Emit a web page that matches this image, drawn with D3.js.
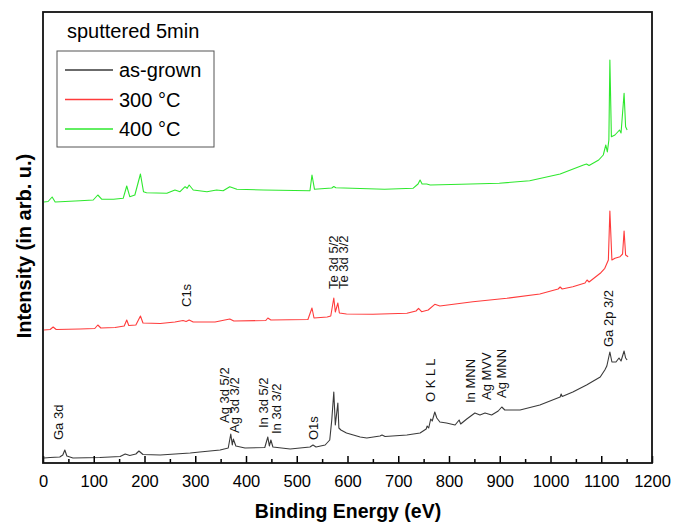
<!DOCTYPE html>
<html>
<head>
<meta charset="utf-8">
<script src="https://cdn.jsdelivr.net/npm/d3@7"></script>
<style>
  body { margin: 0; background: #fff; }
  text { font-family: "Liberation Sans", Arial, sans-serif; }
</style>
</head>
<body>
<div class="dataviz"></div>
<script>
// XPS survey spectra, sputtered 5min
// each point is [binding energy (eV), intensity (arb. u.)]

var asGrown = [
  [2,5],[14,5.5],[33,6],[39,8],[43,13],[47,7],[59,5],[112,5.5],[152,6.5],[162,9],[171,7.5],
  [183,9],[189,12],[197,8.5],[231,8],[290,10],[309,11],[349,13],[365,15],[370,29],[373,18],
  [375,24],[380,17],[398,15],[437,15.5],[443,26],[446,17],[449,23],[453,16],[487,14],[526,16],
  [532,18],[538,16],[556,18],[565,23],[569,43],[573,71],[576,38],[581,60],[583,35],[587,33],
  [598,30],[625,26],[638,25],[664,27],[668,28],[674,26.5],[717,28],[743,30],[755,34],[757,37],
  [760,35],[764,44],[767,42],[772,51],[776,45],[782,41],[795,40],[812,38],[820,43],[823,39],
  [835,44],[851,50],[861,48],[871,50],[884,48],[897,52],[904,56],[910,53],[940,53],[979,58],
  [1019,66],[1021,69],[1023,66.5],[1044,71],[1071,78],[1098,86],[1107,93],[1111,97],[1117,111],
  [1121,101],[1129,101],[1135,105],[1139,102],[1145,112],[1148,105],[1151,103]
];

var t300 = [
  [2,133],[14,133.5],[20,136],[26,133.5],[73,134],[102,134.5],[108,138],[114,135],[142,135.5],
  [160,137],[165,143],[169,137.5],[183,138],[192,147],[197,140],[231,139.5],[260,141],[276,142.5],
  [282,141.5],[288,143],[296,141],[339,141],[368,144],[376,142],[439,142.5],[443,145],[449,143],
  [522,143.5],[530,155],[534,145],[560,146],[567,147],[573,165],[576,151],[581,160],[584,150],
  [598,149],[650,148.7],[717,149.7],[735,152],[740,154.7],[746,151.3],[759,153],[772,158.7],
  [782,157],[847,161.3],[914,164.7],[979,169],[1015,174],[1019,176],[1023,174],[1044,176.3],
  [1068,180],[1072,183],[1076,181],[1098,189.7],[1107,194.7],[1114,203],[1117,252],[1121,203],
  [1127,204.7],[1137,206.3],[1142,209],[1145,232],[1148,208],[1153,206.3]
];

var t400 = [
  [2,261],[10,261.5],[18,266],[24,261],[73,262.3],[99,263],[108,268],[116,263.7],[139,263.7],
  [158,264.7],[165,277],[171,266.3],[181,268],[192,289],[198,271.3],[204,270.3],[244,269.7],
  [260,273],[270,271.3],[280,276.3],[284,274.7],[288,278],[296,273],[323,271.3],[342,273],
  [355,272.3],[368,276.3],[382,273.7],[434,273],[526,272.3],[530,288],[535,273.7],[569,275],
  [573,276.5],[577,275.3],[673,273.7],[729,274.7],[739,279],[743,283],[747,279],[756,279],
  [763,278],[824,278.7],[899,279.7],[959,282.3],[1019,289],[1065,298],[1071,299],[1076,297.5],
  [1095,303],[1104,308],[1109,318],[1112,311],[1115,323],[1117,403],[1120,326.3],[1127,328],
  [1136,333],[1139,330],[1145,369.7],[1148,336.3],[1151,333]
];

var seriesNames = ["as-grown", "300 °C", "400 °C"];
var seriesColors = ["#3a3a3a", "#ff3b3b", "#2ee82e"];

// peak labels: text, energy, intensity where the label starts
var peakLabels = [
  ["Ga 3d", 39, 23], ["Ag 3d 5/2", 367, 40], ["Ag 3d 3/2", 386, 30],
  ["In 3d 5/2", 443, 35], ["In 3d 3/2", 468, 29], ["O1s", 541, 23],
  ["C1s", 292, 156], ["Te 3d 5/2", 582, 174], ["Te 3d 3/2", 600, 174],
  ["O K L L", 773, 61], ["In MNN", 852, 60], ["Ag MVV", 883, 63], ["Ag MNN", 913, 65],
  ["Ga 2p 3/2", 1123, 116]
];

var xMajor = d3.range(0, 1201, 100);
var xMinor = d3.range(50, 1200, 100);

var margin = {top: 12, right: 21, bottom: 59, left: 43};
var W = 673, H = 522;
var width = W - margin.left - margin.right,
    height = H - margin.top - margin.bottom;

var canvas = d3.select(".dataviz").append("svg")
  .attr("width", W)
  .attr("height", H);

var plot = canvas.append("g")
  .attr("transform", "translate(" + margin.left + "," + margin.top + ")");

var x = d3.scaleLinear().domain([0, 1200]).range([0, width]);
var y = d3.scaleLinear().domain([0, height]).range([height, 0]);

var line = d3.line()
  .x(function(d) { return x(d[0]); })
  .y(function(d) { return y(d[1]); });

[asGrown, t300, t400].forEach(function(s, i) {
  plot.append("path")
    .datum(s)
    .attr("fill", "none")
    .attr("stroke", seriesColors[i])
    .attr("stroke-width", 1.1)
    .attr("stroke-linejoin", "round")
    .attr("d", line);
});

// bottom axis, ticks pointing inside
var axisMajor = plot.append("g")
  .attr("transform", "translate(0," + height + ")")
  .call(d3.axisBottom(x).tickValues(xMajor).tickSize(-7).tickPadding(12).tickFormat(d3.format("d")));
axisMajor.select(".domain").remove();
axisMajor.selectAll("line").attr("stroke", "#000").attr("stroke-width", 1.5);
axisMajor.selectAll("text")
  .attr("fill", "#000")
  .style("font-size", "16.5px")
  .style("font-family", "'Liberation Sans', Arial, sans-serif");

var axisMinor = plot.append("g")
  .attr("transform", "translate(0," + height + ")")
  .call(d3.axisBottom(x).tickValues(xMinor).tickSize(-4).tickFormat(""));
axisMinor.select(".domain").remove();
axisMinor.selectAll("line").attr("stroke", "#000").attr("stroke-width", 1.5);

// frame
plot.append("rect")
  .attr("x", 0)
  .attr("y", 0)
  .attr("width", width)
  .attr("height", height)
  .attr("fill", "none")
  .attr("stroke", "#111")
  .attr("stroke-width", 1.8);

// peak labels
plot.selectAll(".peak")
  .data(peakLabels)
  .enter()
  .append("text")
  .attr("class", "peak")
  .attr("transform", function(d) { return "translate(" + x(d[1]) + "," + y(d[2]) + ") rotate(-90)"; })
  .attr("fill", "#111")
  .style("font-size", "13px")
  .text(function(d) { return d[0]; });

// axis titles
canvas.append("text")
  .attr("x", 348)
  .attr("y", 518)
  .attr("text-anchor", "middle")
  .style("font-size", "19.5px")
  .style("font-weight", "bold")
  .text("Binding Energy (eV)");

canvas.append("text")
  .attr("transform", "translate(31,246) rotate(-90)")
  .attr("text-anchor", "middle")
  .style("font-size", "20px")
  .style("font-weight", "bold")
  .text("Intensity (in arb. u.)");

// legend
canvas.append("text")
  .attr("x", 67)
  .attr("y", 38)
  .style("font-size", "20px")
  .text("sputtered 5min");

canvas.append("rect")
  .attr("x", 57)
  .attr("y", 51)
  .attr("width", 157)
  .attr("height", 96)
  .attr("fill", "#fff")
  .attr("stroke", "#555")
  .attr("stroke-width", 1);

var legend = canvas.selectAll(".leg")
  .data(seriesNames)
  .enter()
  .append("g")
  .attr("class", "leg")
  .attr("transform", function(d, i) { return "translate(0," + (70 + i * 29.5) + ")"; });

legend.append("line")
  .attr("x1", 65)
  .attr("x2", 113)
  .attr("stroke", function(d, i) { return seriesColors[i]; })
  .attr("stroke-width", 1.3);

legend.append("text")
  .attr("x", 119)
  .attr("y", 7)
  .style("font-size", "20px")
  .text(function(d) { return d; });
</script>
</body>
</html>
